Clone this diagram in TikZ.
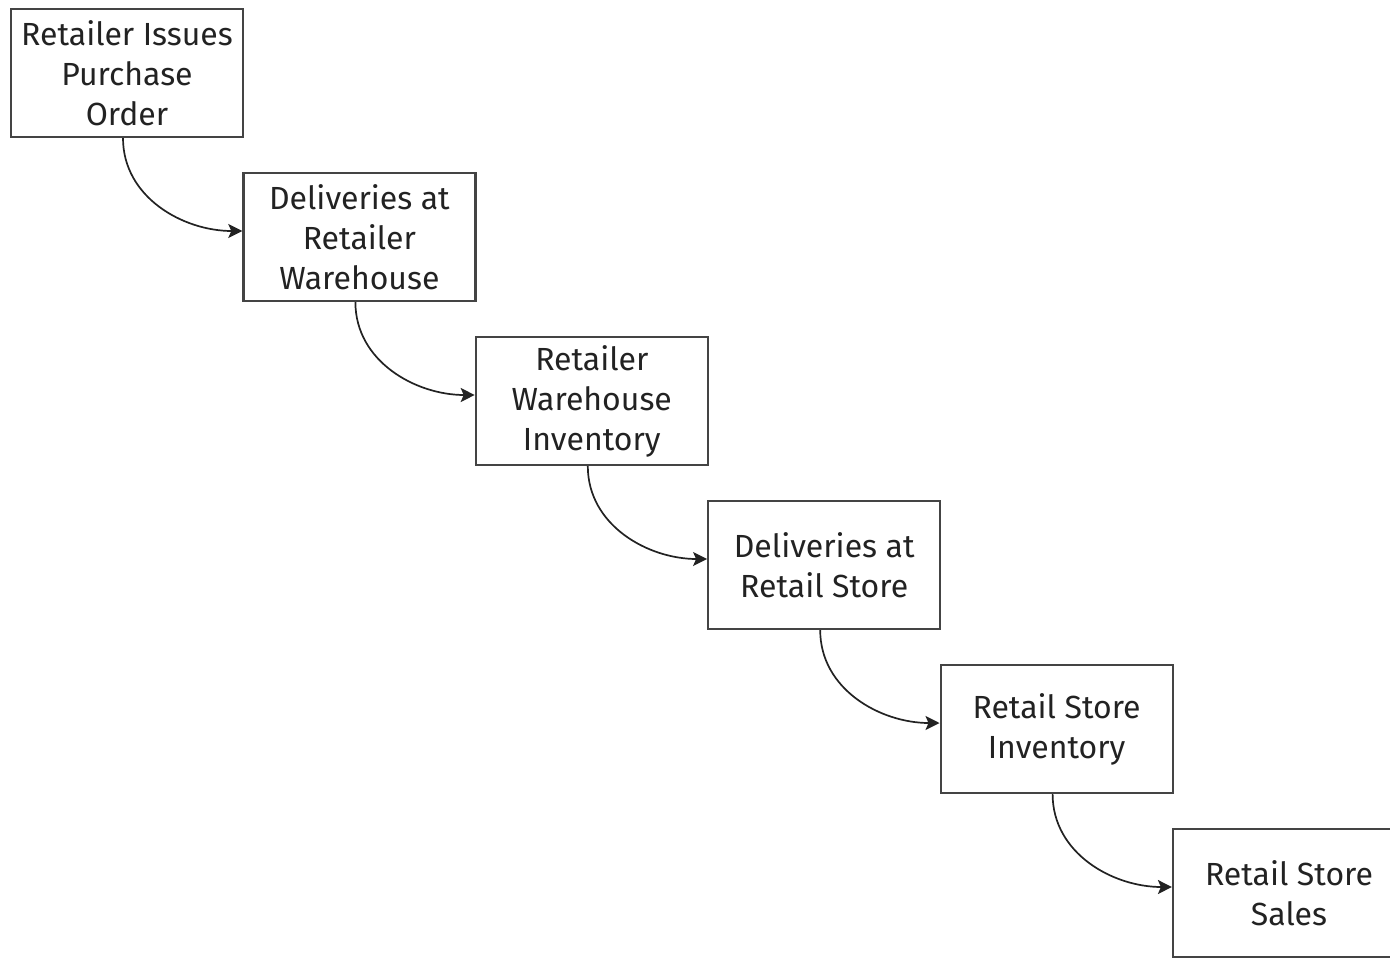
\documentclass[tikz,border=0pt]{standalone}
\usepackage{fontspec}
\setmainfont{Fira Sans}
\usetikzlibrary{arrows.meta}
\definecolor{ink}{HTML}{222222}
\definecolor{frame}{HTML}{444444}
\tikzset{
  stage/.style={draw=frame, line width=1.1pt, minimum width=116pt, minimum height=64pt,
    inner sep=0pt, align=center, text=ink,
    font=\fontsize{16}{20}\selectfont},
  flow/.style={draw=ink, line width=0.85pt, -{Stealth[length=7pt,width=7pt,inset=1.5pt]}}
}
\begin{document}
\begin{tikzpicture}[x=0.5pt,y=-0.5pt]
  \useasboundingbox (0,0) rectangle (1390,957);
  \begin{scope}
    \clip (0,0) rectangle (1390,957);
    \node[stage] (po)  at (127,73)    {Retailer Issues\\Purchase\\Order};
    \node[stage] (dw)  at (359.4,237) {Deliveries at\\Retailer\\Warehouse};
    \node[stage] (wi)  at (591.8,401) {Retailer\\Warehouse\\Inventory};
    \node[stage] (ds)  at (824.2,565) {Deliveries at\\Retail Store};
    \node[stage] (si)  at (1056.6,729) {Retail Store\\Inventory};
    \node[stage] (ss)  at (1289,893)  {Retail Store\\Sales};
  \end{scope}
  \draw[flow] ([xshift=-2pt]po.south) to[out=-90,in=180] ([yshift=3pt]dw.west);
  \draw[flow] ([xshift=-2pt]dw.south) to[out=-90,in=180] ([yshift=3pt]wi.west);
  \draw[flow] ([xshift=-2pt]wi.south) to[out=-90,in=180] ([yshift=3pt]ds.west);
  \draw[flow] ([xshift=-2pt]ds.south) to[out=-90,in=180] ([yshift=3pt]si.west);
  \draw[flow] ([xshift=-2pt]si.south) to[out=-90,in=180] ([yshift=3pt]ss.west);
\end{tikzpicture}
\end{document}
